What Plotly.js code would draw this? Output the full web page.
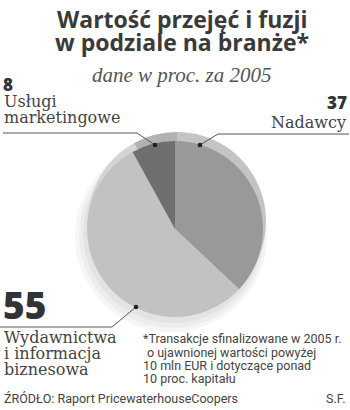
<!DOCTYPE html>
<html><head><meta charset="utf-8">
<script src="https://cdn.plot.ly/plotly-3.0.1.min.js"></script>
<style>html,body{margin:0;padding:0;background:#fff}#c{width:350px;height:410px}</style>
</head><body><div id="c"></div>
<script>
const categories = ["Nadawcy", "Wydawnictwa i informacja biznesowa", "Usługi marketingowe"];
const values = [37, 55, 8];
const valueLabels = ["37", "55", "8"];
const sliceColors = ["#999999", "#c2c2c2", "#6f6f6f"];
const rimColors = ["#c4c4c4", "#d4d4d4", "#b2b2b2"];

const W = 350, H = 410;
const X = p => p / W, Y = p => 1 - p / H;
function dom(cx, cy, r) { return {x: [X(cx - r), X(cx + r)], y: [Y(cy + r), Y(cy - r)]}; }

function pie(colors, d) {
  return {type: "pie", values: values, labels: categories, sort: false, direction: "clockwise",
    rotation: 0, textinfo: "none", hoverinfo: "skip", showlegend: false, domain: d,
    marker: {colors: colors, line: {width: 0}}};
}
const shadow = c => [c, c, c];
const traces = [
  pie(shadow("rgba(0,0,0,0.035)"), dom(171, 236, 96)),
  pie(shadow("rgba(0,0,0,0.035)"), dom(172, 235, 93)),
  pie(shadow("rgba(0,0,0,0.04)"), dom(173, 233, 90)),
  pie(rimColors, dom(177, 221, 89)),
  pie(sliceColors, dom(175, 229, 88))
];

const SANS = "'Open Sans', sans-serif";
const SLAB = "'DejaVu Serif', serif";
const SMALL = "Roboto, sans-serif";
function txt(text, x, base, size, family, o) {
  o = o || {};
  return {text: text, xref: "paper", yref: "paper", x: X(x), y: Y(base - 0.35 * size),
    xanchor: o.anchor || "left", yanchor: "middle", showarrow: false,
    font: {family: family, size: size, color: o.color || "#3a3a3a", weight: o.weight || 400,
      style: o.style || "normal"}};
}
const ann = [
  txt("Wartość przejęć i fuzji", 182, 27, 23, SANS, {anchor: "center", color: "#3a3a3a", weight: 700}),
  txt("w podziale na branże*", 182, 50, 23, SANS, {anchor: "center", color: "#3a3a3a", weight: 700}),
  txt("dane w proc. za 2005", 181, 82, 21, "'Liberation Serif', serif", {anchor: "center", color: "#555", style: "italic"}),
  txt(valueLabels[2], 1, 90, 17, SANS, {weight: 800, color: "#333"}),
  txt("Usługi", 2, 107, 16, SLAB, {color: "#444"}),
  txt("marketingowe", 2, 123, 16, SLAB, {color: "#444"}),
  txt(valueLabels[0], 349, 108, 17, SANS, {anchor: "right", weight: 800, color: "#333"}),
  txt("Nadawcy", 348, 128, 16, SLAB, {anchor: "right", color: "#444"}),
  txt(valueLabels[1], 1, 317, 37, SANS, {weight: 800, color: "#333"}),
  txt("Wydawnictwa", 2, 343, 16, SLAB, {color: "#444"}),
  txt("i informacja", 2, 359, 16, SLAB, {color: "#444"}),
  txt("biznesowa", 2, 375, 16, SLAB, {color: "#444"}),
  txt("*Transakcje sfinalizowane w 2005 r.", 141, 343, 12.5, SMALL, {color: "#444"}),
  txt("o ujawnionej wartości powyżej", 145, 357, 12.5, SMALL, {color: "#444"}),
  txt("10 mln EUR i dotyczące ponad", 141, 370, 12.5, SMALL, {color: "#444"}),
  txt("10 proc. kapitału", 141, 383, 12.5, SMALL, {color: "#444"}),
  txt("ŹRÓDŁO: Raport PricewaterhouseCoopers", 2, 403, 12.5, SMALL, {color: "#444"}),
  txt("S.F.", 348, 403, 12.5, SMALL, {anchor: "right", color: "#444"})
];

function path(pts) { return "M" + pts.map(p => X(p[0]).toFixed(5) + "," + Y(p[1]).toFixed(5)).join(" L"); }
function leader(pts) { return {type: "path", xref: "paper", yref: "paper", path: path(pts), line: {color: "#555", width: 1}}; }
function dot(x, y) { const r = 2.3; return {type: "circle", xref: "paper", yref: "paper",
  x0: X(x - r), x1: X(x + r), y0: Y(y + r), y1: Y(y - r), fillcolor: "#222", line: {width: 0}}; }
const shapes = [
  leader([[3, 133], [137, 133], [155, 145]]), dot(155, 145),
  leader([[349, 134], [218, 134], [200, 145]]), dot(200, 145),
  leader([[0, 327], [112, 327], [136, 307]]), dot(136, 307)
];

Plotly.newPlot("c", traces, {
  width: W, height: H, margin: {l: 0, r: 0, t: 0, b: 0},
  paper_bgcolor: "#fff", plot_bgcolor: "#fff", showlegend: false,
  annotations: ann, shapes: shapes
}, {staticPlot: true, displayModeBar: false});
</script></body></html>
